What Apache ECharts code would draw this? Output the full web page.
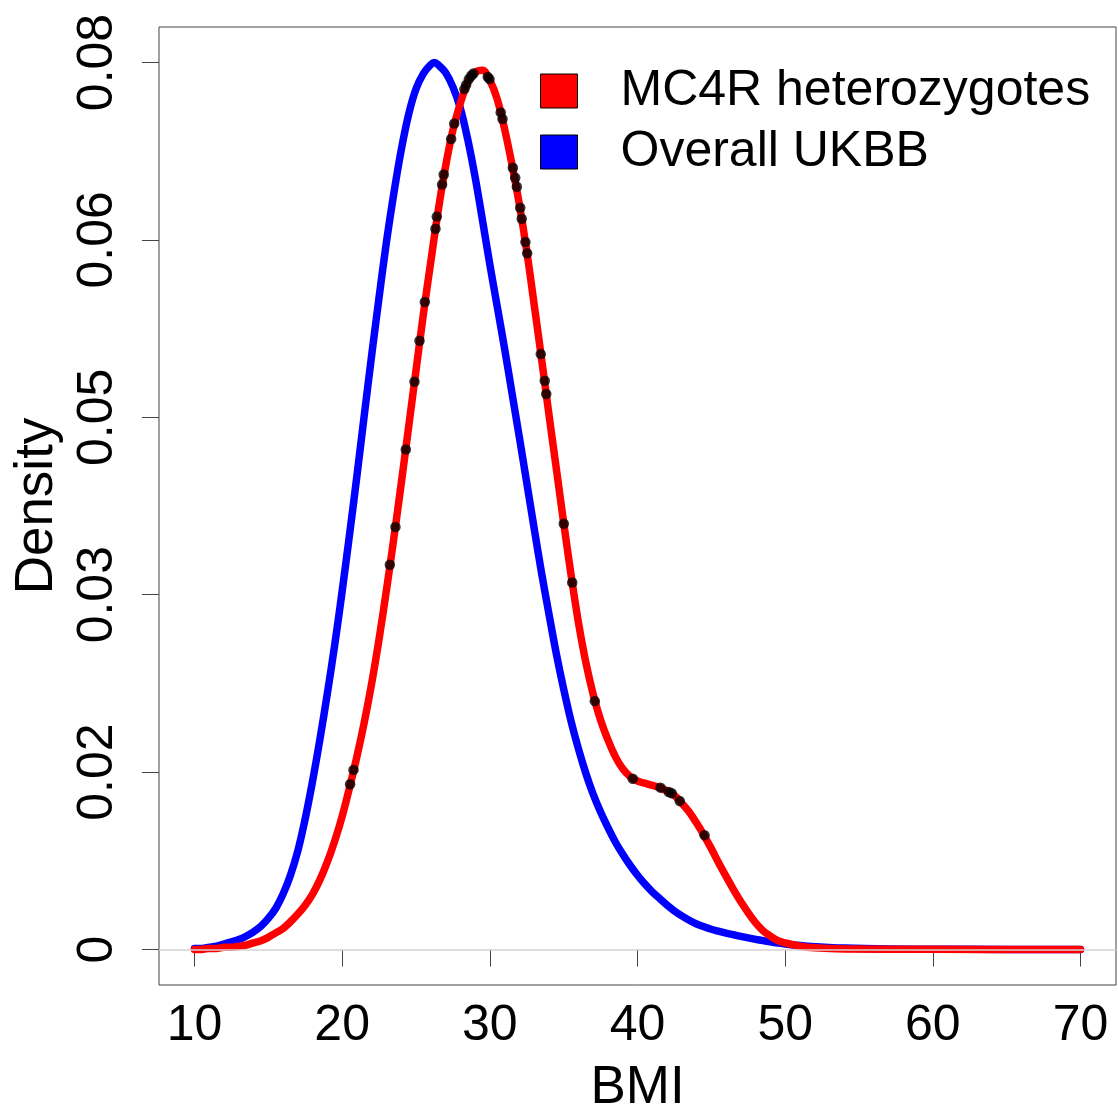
<!DOCTYPE html>
<html>
<head>
<meta charset="utf-8">
<script src="https://cdn.jsdelivr.net/npm/echarts@6/dist/echarts.min.js"></script>
<style>
html,body{margin:0;padding:0;background:#fff;}
#chart{width:1118px;height:1120px;}
</style>
</head>
<body>
<div id="chart"></div>
<script>
// ---- data ----
const xTicks = [10, 20, 30, 40, 50, 60, 70];
const yTicks = [0, 0.016, 0.032, 0.048, 0.064, 0.08];

const blueBmi  = [10, 10.5, 11, 11.5, 12, 12.5, 13, 13.5, 14, 14.5, 15, 15.5, 16, 16.5, 17, 17.5, 18, 18.5, 19, 19.5, 20, 20.5, 21, 21.5, 22, 22.5, 23, 23.5, 24, 24.5, 25, 25.5, 26, 26.25, 26.5, 27, 27.5, 28, 28.5, 29, 29.5, 30, 30.5, 31, 31.5, 32, 32.5, 33, 33.5, 34, 34.5, 35, 35.5, 36, 36.5, 37, 37.5, 38, 38.5, 39, 39.5, 40, 40.5, 41, 41.5, 42, 42.5, 43, 43.5, 44, 44.5, 45, 45.5, 46, 46.5, 47, 47.5, 48, 48.5, 49, 49.5, 50, 51, 52, 54, 57, 60, 65, 70];
const blueDens = [0.0001, 0.0001, 0.0002, 0.0003, 0.0005, 0.0007, 0.0009, 0.0012, 0.0016, 0.0021, 0.0028, 0.0037, 0.0050, 0.0067, 0.0089, 0.0118, 0.0152, 0.0190, 0.0231, 0.0275, 0.0323, 0.0374, 0.0427, 0.0482, 0.0536, 0.0588, 0.0638, 0.0682, 0.0721, 0.0753, 0.0776, 0.0790, 0.0798, 0.0800, 0.0798, 0.0791, 0.0778, 0.0759, 0.0731, 0.0697, 0.0658, 0.0618, 0.0580, 0.0542, 0.0502, 0.0462, 0.0421, 0.0380, 0.0340, 0.0303, 0.0267, 0.0235, 0.0206, 0.0181, 0.0159, 0.0140, 0.0124, 0.0110, 0.0097, 0.0086, 0.0076, 0.0067, 0.0059, 0.0052, 0.0046, 0.0040, 0.00348, 0.00303, 0.00264, 0.0023, 0.00205, 0.00183, 0.00165, 0.00148, 0.00133, 0.00119, 0.00105, 0.00092, 0.0008, 0.00069, 0.00059, 0.0005, 0.00036, 0.00026, 0.00013, 0.00005, 0.00003, 0.00001, 0];

const redBmi  = [10, 10.5, 11, 11.5, 12, 12.5, 13, 13.5, 14, 14.5, 15, 15.5, 16, 16.5, 17, 17.5, 18, 18.5, 19, 19.5, 20, 20.5, 21, 21.5, 22, 22.5, 23, 23.5, 24, 24.5, 25, 25.5, 26, 26.5, 27, 27.5, 28, 28.5, 29, 29.5, 30, 30.5, 31, 31.5, 32, 32.5, 33, 33.5, 34, 34.5, 35, 35.5, 36, 36.5, 37, 37.5, 38, 38.5, 39, 39.5, 40, 40.5, 41, 41.5, 42, 42.5, 43, 43.5, 44, 44.5, 45, 45.5, 46, 46.5, 47, 47.5, 48, 48.5, 49, 49.5, 50, 51, 52, 54, 60, 70];
const redDens = [0.0000, 0.0000, 0.0001, 0.0001, 0.0002, 0.0002, 0.0003, 0.0004, 0.0006, 0.0008, 0.0011, 0.0015, 0.0019, 0.0025, 0.0032, 0.0040, 0.0050, 0.0063, 0.0079, 0.0098, 0.0120, 0.0146, 0.0174, 0.0205, 0.0240, 0.0280, 0.0324, 0.0371, 0.0420, 0.0471, 0.0522, 0.0573, 0.0620, 0.0666, 0.0706, 0.0739, 0.0763, 0.0782, 0.0791, 0.0793, 0.0784, 0.0767, 0.0740, 0.0708, 0.0672, 0.0630, 0.0582, 0.0533, 0.0483, 0.0434, 0.0385, 0.0338, 0.0295, 0.0259, 0.0230, 0.0207, 0.0189, 0.0174, 0.0163, 0.0156, 0.0152, 0.0150, 0.0148, 0.0146, 0.0143, 0.0139, 0.0132, 0.0124, 0.0114, 0.0103, 0.0091, 0.0078, 0.0066, 0.0054, 0.0043, 0.0033, 0.0024, 0.0017, 0.0012, 0.0008, 0.0006, 0.0003, 0.00015, 0.00005, 0.00002, 0];

const dotBmi  = [20.54, 20.77, 23.23, 23.61, 24.31, 24.90, 25.24, 25.60, 26.32, 26.41, 26.77, 26.88, 27.38, 27.59, 28.28, 28.40, 28.58, 28.74, 28.89, 29.86, 29.98, 30.74, 30.86, 31.56, 31.72, 31.83, 32.06, 32.16, 32.41, 32.53, 33.45, 33.72, 33.82, 35.01, 35.58, 37.11, 39.68, 41.56, 42.12, 42.32, 42.86, 44.54];
const dotDens = [0.0149, 0.0162, 0.0347, 0.0381, 0.0451, 0.0512, 0.0549, 0.0584, 0.0650, 0.0661, 0.0690, 0.0699, 0.0731, 0.0745, 0.0776, 0.0780, 0.0785, 0.0788, 0.0790, 0.0787, 0.0785, 0.0755, 0.0749, 0.0705, 0.0696, 0.0688, 0.0669, 0.0659, 0.0638, 0.0628, 0.0537, 0.0513, 0.0501, 0.0384, 0.0331, 0.0224, 0.0154, 0.0146, 0.0142, 0.0141, 0.0134, 0.0103];

const seriesNames = ['MC4R heterozygotes', 'Overall UKBB'];
const xTitle = 'BMI';
const yTitle = 'Density';

// ---- build ----
const zip = (a, b) => a.map((v, i) => [v, b[i]]);
const FONT = '"Liberation Sans", Arial, Helvetica, sans-serif';
const AX = '#444';

const chart = echarts.init(document.getElementById('chart'), null, {renderer: 'canvas'});
chart.setOption({
  backgroundColor: '#fff',
  animation: false,
  textStyle: {fontFamily: FONT},
  grid: {left: 159, right: 2, top: 27, bottom: 135, show: true, borderColor: AX, borderWidth: 1,
    backgroundColor: 'transparent', containLabel: false, outerBoundsMode: 'none'},
  legend: {
    orient: 'vertical', left: 535, top: 61,
    itemWidth: 37, itemHeight: 34, itemGap: 11,
    icon: 'rect',
    itemStyle: {borderColor: '#000', borderWidth: 1},
    textStyle: {fontSize: 50, color: '#000', fontFamily: FONT, padding: [0, 0, 0, 38]},
    data: seriesNames
  },
  xAxis: {
    type: 'value', min: 7.6, max: 72.4,
    name: xTitle, nameLocation: 'middle', nameGap: 77,
    nameTextStyle: {fontSize: 53, color: '#000', fontFamily: FONT},
    axisLine: {show: false},
    splitLine: {show: false},
    axisTick: {show: true, length: 17, inside: false, customValues: xTicks, lineStyle: {color: AX, width: 1}},
    axisLabel: {customValues: xTicks, fontSize: 50, color: '#000', margin: 16, fontFamily: FONT}
  },
  yAxis: {
    type: 'value', min: -0.0032, max: 0.0832,
    name: yTitle, nameLocation: 'middle', nameGap: 95, nameRotate: 90,
    nameTextStyle: {fontSize: 53, color: '#000', fontFamily: FONT},
    axisLine: {show: false},
    splitLine: {show: false},
    axisTick: {show: true, length: 17, inside: false, customValues: yTicks, lineStyle: {color: AX, width: 1}},
    axisLabel: {customValues: yTicks, rotate: 90, fontSize: 50, color: '#000', margin: 36, fontFamily: FONT,
      formatter: v => (Math.abs(v) < 1e-9 ? '0' : v.toFixed(2))}
  },
  series: [
    {
      name: 'zero', type: 'line', data: [], z: 1, silent: true,
      markLine: {silent: true, symbol: 'none', label: {show: false},
        lineStyle: {color: '#d3d3d3', width: 1.5, type: 'solid'},
        data: [{yAxis: 0}]}
    },
    {
      name: seriesNames[1], type: 'line', data: zip(blueBmi, blueDens),
      showSymbol: false, smooth: 0.35, z: 2,
      color: '#0000ff',
      lineStyle: {color: '#0000ff', width: 7.5, cap: 'round', join: 'round'}
    },
    {
      name: seriesNames[0], type: 'line', data: zip(redBmi, redDens),
      showSymbol: false, smooth: 0.35, z: 3,
      color: '#ff0000',
      lineStyle: {color: '#ff0000', width: 7.5, cap: 'round', join: 'round'}
    },
    {
      name: 'points', type: 'scatter', data: zip(dotBmi, dotDens),
      symbol: 'circle', symbolSize: 10.5, z: 4,
      itemStyle: {color: '#000'}
    }
  ]
});
</script>
</body>
</html>
